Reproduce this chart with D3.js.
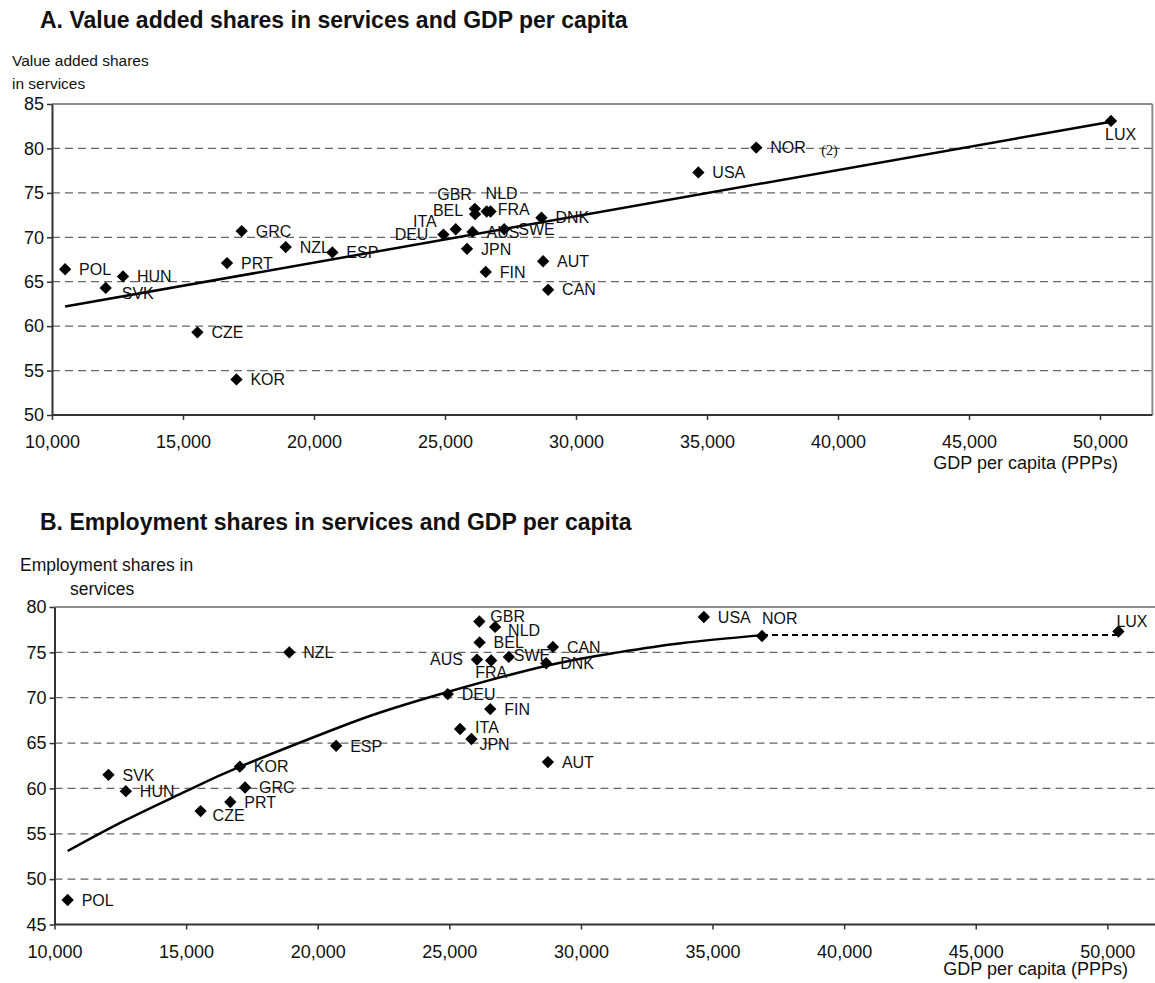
<!DOCTYPE html>
<html>
<head>
<meta charset="utf-8">
<script src="https://cdn.jsdelivr.net/npm/d3@7"></script>
<style>
  html, body { margin: 0; padding: 0; background: #fff; }
  svg text { font-family: "Liberation Sans", Arial, sans-serif; fill: #111; }
</style>
</head>
<body>
<svg id="chart" width="1155" height="983"></svg>
<script>
// Countries, shared by both scatter panels
const countries = ["POL","HUN","SVK","CZE","KOR","PRT","GRC","NZL","ESP","DEU","ITA","AUS","GBR","BEL","NLD","FRA","SWE","JPN","FIN","DNK","AUT","CAN","USA","NOR","LUX"];

// GDP per capita (PPPs)
const gdpPerCapita = [10500,12710,12050,15550,17040,16680,17240,18920,20700,24940,25410,26050,26140,26150,26740,26590,27260,25840,26555,28680,28745,28935,34670,36880,50420];

// Value added shares in services (%)
const valueAddedShares = [66.4,65.6,64.3,59.3,54.0,67.1,70.7,68.9,68.3,70.3,70.9,70.6,73.2,72.6,72.9,72.9,70.9,68.7,66.1,72.2,67.3,64.1,77.3,80.1,83.1];

// Employment shares in services (%)
const employmentShares = [47.7,59.7,61.5,57.5,62.4,58.5,60.1,75.0,64.7,70.4,66.55,74.2,78.4,76.1,77.8,74.1,74.5,65.45,68.75,73.8,62.9,75.6,78.9,76.8,77.3];

// Linear trend in panel A (endpoints)
const trendA_gdp = [10500, 50420];
const trendA_val = [62.2, 83.0];

// Fitted trend in panel B (points along the curve), then flat dashed segment NOR -> LUX
const trendB_gdp = [10500, 12700, 15000, 17050, 20600, 22400, 24900, 28650, 31200, 33800, 36880];
const trendB_val = [53.1, 56.5, 59.7, 62.4, 66.5, 68.4, 70.6, 73.5, 74.9, 76.0, 76.9];
const flatB_gdp = [36880, 50420];
const flatB_val = [76.9, 76.9];

// Axis ticks
const xTicks = [10000,15000,20000,25000,30000,35000,40000,45000,50000];
const yTicksA = [50,55,60,65,70,75,80,85];
const yTicksB = [45,50,55,60,65,70,75,80];

// Label placement: [anchor, dx, dy]; default is to the right of the marker
const placeA = {
  SVK: ["start", 16, 5], DEU: ["end", -15, 0], ITA: ["end", -19, -8],
  GBR: ["end", -3, -15], NLD: ["start", -5, -18], BEL: ["end", -12, -4],
  FRA: ["start", 11, -2], LUX: ["start", -6, 13]
};
const placeB = {
  GBR: ["start", 11, -5], NLD: ["start", 13, 3], AUS: ["end", -14, 0],
  FRA: ["middle", 0, 12], SWE: ["start", 5, -2], ITA: ["start", 15, -2],
  JPN: ["start", 8, 5], CZE: ["start", 12, 4], NOR: ["start", 0, -18],
  LUX: ["start", -2, -10]
};

const svg = d3.select("#chart");
const fmt = d3.format(",");

function panel(cfg) {
  const g = svg.append("g");
  const x = d3.scaleLinear().domain([10000, 52000]).range(cfg.xRange);
  const y = d3.scaleLinear().domain(cfg.yDomain).range(cfg.yRange);

  // title
  g.append("text").attr("x", 40).attr("y", cfg.titleY)
    .style("font-size", "23px").style("font-weight", "bold").text(cfg.title);
  // y-axis title
  cfg.yTitle.forEach(t => g.append("text").attr("x", t[0]).attr("y", t[1])
    .style("font-size", cfg.yTitleSize).text(t[2]));

  // dashed gridlines
  g.append("g").selectAll("line")
    .data(cfg.yTicks.slice(1, -1)).join("line")
    .attr("x1", x.range()[0]).attr("x2", x(52000))
    .attr("y1", d => y(d)).attr("y2", d => y(d))
    .attr("stroke", "#666").attr("stroke-width", 1.3)
    .attr("stroke-dasharray", "8,5");

  // top and right border
  const top = y(cfg.yDomain[1]);
  g.append("line").attr("x1", x.range()[0]).attr("x2", x(52000))
    .attr("y1", top).attr("y2", top).attr("stroke", "#8c8c8c").attr("stroke-width", 2);
  g.append("line").attr("x1", x(52000)).attr("x2", x(52000))
    .attr("y1", top).attr("y2", y(cfg.yDomain[0])).attr("stroke", "#8c8c8c").attr("stroke-width", 2);

  // axes
  const xa = g.append("g").attr("transform", `translate(0,${y(cfg.yDomain[0])})`)
    .call(d3.axisBottom(x).tickValues(xTicks).tickFormat(fmt).tickSize(5).tickPadding(cfg.xPad).tickSizeOuter(0));
  const ya = g.append("g").attr("transform", `translate(${x(10000)},0)`)
    .call(d3.axisLeft(y).tickValues(cfg.yTicks).tickSize(5).tickPadding(3).tickSizeOuter(0));
  [xa, ya].forEach(a => {
    a.select(".domain").attr("stroke", "#333").attr("stroke-width", 2);
    a.selectAll(".tick line").attr("stroke", "#333").attr("stroke-width", 1.5);
    a.selectAll(".tick text").style("font-size", "18px")
      .style("font-family", '"Liberation Sans", Arial, sans-serif').attr("fill", "#111");
  });
  xa.select(".domain").attr("d", `M${x.range()[0]},0H${x(52000)}`);

  g.append("text").attr("x", cfg.xTitle[0]).attr("y", cfg.xTitle[1])
    .attr("text-anchor", "end").style("font-size", "18px").text("GDP per capita (PPPs)");

  // trend lines
  cfg.trends.forEach(t => {
    const line = d3.line().x(d => x(d[0])).y(d => y(d[1])).curve(t.curve || d3.curveLinear);
    g.append("path").datum(d3.zip(t.xs, t.ys))
      .attr("d", line)
      .attr("fill", "none").attr("stroke", "#000").attr("stroke-width", t.w)
      .attr("stroke-dasharray", t.dash || null);
  });

  // markers
  const pts = countries.map((c, i) => ({ c, gx: gdpPerCapita[i], v: cfg.values[i] }));
  g.append("g").selectAll("path").data(pts).join("path")
    .attr("d", d3.symbol(d3.symbolSquare, 76)())
    .attr("transform", d => `translate(${x(d.gx)},${y(d.v)}) rotate(45)`)
    .attr("fill", "#000");

  // labels
  g.append("g").selectAll("text").data(pts).join("text")
    .each(function (d) {
      const p = cfg.place[d.c] || ["start", 14, 0];
      d3.select(this).attr("text-anchor", p[0])
        .attr("x", x(d.gx) + p[1]).attr("y", y(d.v) + p[2]).attr("dy", "0.36em");
    })
    .style("font-size", "16px").text(d => d.c);

  return { g, x, y };
}

const A = panel({
  title: "A. Value added shares in services and GDP per capita", titleY: 28,
  yTitle: [[12, 66, "Value added shares"], [12, 89, "in services"]], yTitleSize: "15.5px",
  xRange: [52, 1152.4], yDomain: [50, 85], yRange: [415, 104], yTicks: yTicksA,
  xPad: 15, xTitle: [1118, 469], values: valueAddedShares, place: placeA,
  trends: [{ xs: trendA_gdp, ys: trendA_val, w: 2.5 }]
});
// footnote marker next to NOR in panel A
A.g.append("text")
  .attr("x", A.x(gdpPerCapita[countries.indexOf("NOR")]) + 65)
  .attr("y", A.y(valueAddedShares[countries.indexOf("NOR")]) + 7)
  .style("font-family", '"Liberation Serif", "Times New Roman", serif')
  .style("font-size", "14px").text("(2)");

panel({
  title: "B. Employment shares in services and GDP per capita", titleY: 530,
  yTitle: [[20, 571, "Employment shares in"], [70, 595, "services"]], yTitleSize: "17.5px",
  xRange: [54.5, 1160], yDomain: [45, 80], yRange: [924.5, 607], yTicks: yTicksB,
  xPad: 16, xTitle: [1128, 975], values: employmentShares, place: placeB,
  trends: [
    { xs: trendB_gdp, ys: trendB_val, w: 2.5, curve: d3.curveNatural },
    { xs: flatB_gdp, ys: flatB_val, w: 2, dash: "6,4" }
  ]
});
</script>
</body>
</html>
